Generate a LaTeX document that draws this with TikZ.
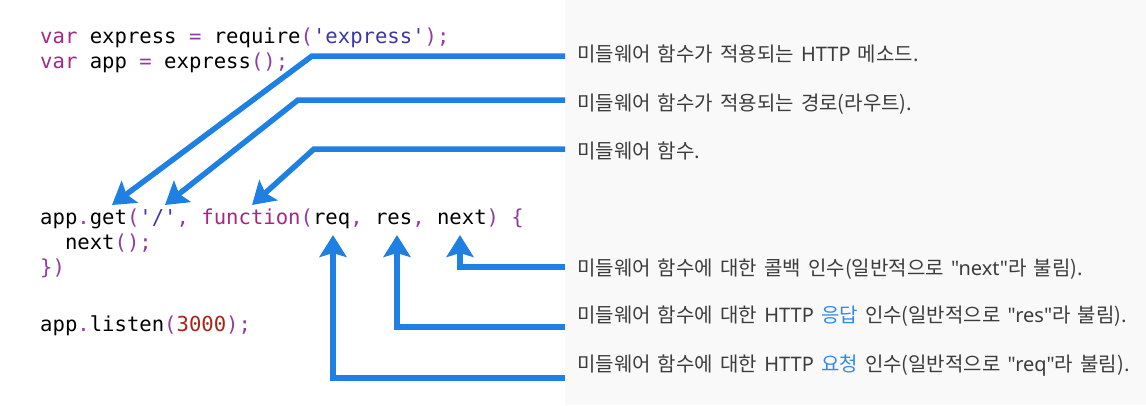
\documentclass[tikz,border=0pt]{standalone}
\usepackage{fontspec}
\usepackage{tikz}
\usetikzlibrary{arrows.meta}

\newfontfamily\codefont{DejaVu Sans Mono}
\newfontfamily\kofont[WordSpace=1.6]{Noto Sans CJK KR}
\newfontfamily\latfont{Noto Sans}

\definecolor{arrowblue}{RGB}{30,128,226}
\definecolor{panelgray}{RGB}{249,249,249}
\definecolor{labelgray}{RGB}{60,60,60}
\definecolor{wordblue}{RGB}{50,140,230}
\definecolor{kwpurple}{RGB}{165,40,130}
\definecolor{punctpurple}{RGB}{145,60,160}
\definecolor{strblue}{RGB}{60,55,165}
\definecolor{numred}{RGB}{170,35,25}

\newcommand\kw[1]{\textcolor{kwpurple}{#1}}
\newcommand\pu[1]{\textcolor{punctpurple}{#1}}
\newcommand\cstr[1]{\textcolor{strblue}{#1}}
\newcommand\cnum[1]{\textcolor{numred}{#1}}
\newcommand\lat[1]{{\latfont\fontsize{20}{24}\selectfont #1}}
\newcommand\sq{\char"27\relax}
\newcommand\dq{\char"22\relax}

\tikzset{
  code/.style={anchor=base west,inner sep=0pt,font=\codefont\fontsize{20.6}{25}\selectfont},
  lbl/.style={anchor=base west,inner sep=0pt,text=labelgray,font=\kofont\fontsize{20}{24}\selectfont},
  conn/.style={draw=arrowblue,line width=5.5pt,-{Stealth[length=22pt,width=27pt,inset=4pt]}}
}

\begin{document}
\begin{tikzpicture}[x=1pt,y=-1pt]
  \useasboundingbox (0,0) rectangle (1146,405);
  \fill[panelgray] (565,0) rectangle (1146,405);

  % code
  \node[code] (creq)    at (40,43)  {\kw{var} express \pu{=} require\pu{(}\cstr{\sq express\sq}\pu{);}};
  \node[code] (capp)    at (40,68)  {\kw{var} app \pu{=} express\pu{();}};
  \node[code] (cget)    at (40,224) {app\pu{.}get\pu{(}\cstr{\sq/\sq}\pu{,} \kw{function}\pu{(}req\pu{,} res\pu{,} next\pu{)} \pu{\{}};
  \node[code] (cnext)   at (64.8,249) {next\pu{();}};
  \node[code] (cclose)  at (40,274) {\pu{\})}};
  \node[code] (clisten) at (40,331) {app\pu{.}listen\pu{(}\cnum{3000}\pu{);}};

  % labels
  \node[lbl] (lmethod) at (577,61)  {미들웨어 함수가 적용되는 \lat{HTTP} 메소드.};
  \node[lbl] (lpath)   at (577,110) {미들웨어 함수가 적용되는 경로(라우트).};
  \node[lbl] (lfunc)   at (577,158) {미들웨어 함수.};
  \node[lbl] (lnext)   at (577,275) {미들웨어 함수에 대한 콜백 인수(일반적으로 \lat{\dq next\dq}라 불림).};
  \node[lbl] (lres)    at (577,322) {미들웨어 함수에 대한 \lat{HTTP} \textcolor{wordblue}{응답} 인수(일반적으로 \lat{\dq res\dq}라 불림).};
  \node[lbl] (lreq)    at (577,371) {미들웨어 함수에 대한 \lat{HTTP} \textcolor{wordblue}{요청} 인수(일반적으로 \lat{\dq req\dq}라 불림).};

  % tips and bends
  \coordinate (tget)  at (112,205);
  \coordinate (tpath) at (165,205);
  \coordinate (tfunc) at (252,205);
  \coordinate (treq)  at (333,235);
  \coordinate (tres)  at (397,235);
  \coordinate (tnext) at (460,235);
  \coordinate (bmethod) at (312,56);
  \coordinate (bpath)   at (298,100);
  \coordinate (bfunc)   at (314,149);

  \draw[conn] ([shift={(-12,-5)}]lmethod.base west) -- (bmethod) -- (tget);
  \draw[conn] ([shift={(-12,-10)}]lpath.base west) -- (bpath) -- (tpath);
  \draw[conn] ([shift={(-12,-9)}]lfunc.base west) -- (bfunc) -- (tfunc);
  \draw[conn] ([shift={(-12,-8)}]lnext.base west) -| (tnext);
  \draw[conn] ([shift={(-12,5)}]lres.base west) -| (tres);
  \draw[conn] ([shift={(-12,7)}]lreq.base west) -| (treq);
\end{tikzpicture}
\end{document}
